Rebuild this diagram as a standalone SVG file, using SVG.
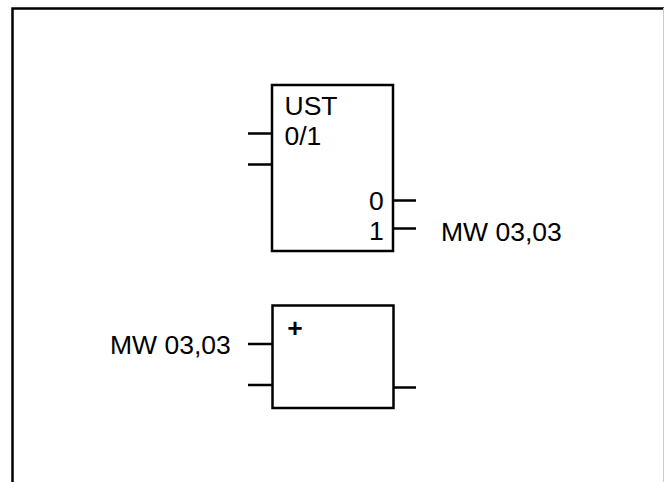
<svg xmlns="http://www.w3.org/2000/svg" width="664" height="482" viewBox="0 0 664 482">
<style>
.l{fill:none;stroke:#000;stroke-width:2.500}
text{font-family:"Liberation Sans",Arial,sans-serif;font-size:26.500px;fill:#000}
.b{font-weight:bold}
</style>
<rect width="664" height="482" fill="#fff"/>
<g id="frame">
<path class="l" d="M12.500 482V8.500H664"/>
<path d="M663.500 8V482" fill="none" stroke="#ccc" stroke-width="1"/>
</g>
<g id="connectors">
<path class="l" d="M248 133.500H272M248 164.500H272M393 200.500H416M393 228.500H416M248 344H272M248 385H272M393 387.500H416"/>
</g>
<g id="ust">
<rect class="l" x="272" y="85" width="121" height="166"/>
<text x="284.500" y="115">UST</text>
<text x="284.500" y="145">0/1</text>
<text x="369" y="210">0</text>
<text x="369" y="240">1</text>
</g>
<g id="add">
<rect class="l" x="272.500" y="305.500" width="121" height="102.500"/>
<text class="b" x="287.300" y="337">+</text>
</g>
<g id="labels">
<text x="441" y="241">MW 03,03</text>
<text x="110" y="354">MW 03,03</text>
</g>
</svg>
